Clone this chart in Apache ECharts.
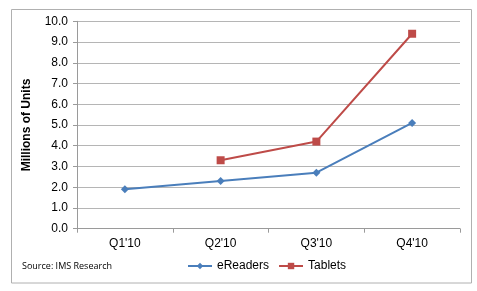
<!DOCTYPE html>
<html><head><meta charset="utf-8">
<script src="https://cdn.jsdelivr.net/npm/echarts@6/dist/echarts.min.js"></script>
<style>html,body{margin:0;padding:0;background:#fff}#c{width:477px;height:291px}</style>
</head><body><div id="c"></div>
<script>
var categories = ["Q1'10", "Q2'10", "Q3'10", "Q4'10"];
var eReaders = [1.9, 2.3, 2.7, 5.1];
var tablets = [null, 3.3, 4.2, 9.4];
var yTicks = {min: 0, max: 10, interval: 1};

var chart = echarts.init(document.getElementById('c'), null, {renderer: 'canvas'});
var font = '"Liberation Sans", Arial, sans-serif';
chart.setOption({
  animation: false,
  backgroundColor: '#fff',
  grid: {left: 77, right: 17, top: 21.3, bottom: 62.3, containLabel: false},
  xAxis: {
    type: 'category', data: categories, boundaryGap: true,
    axisLine: {lineStyle: {color: '#9a9a9a', width: 1}},
    axisTick: {show: true, length: 4, lineStyle: {color: '#9a9a9a'}},
    axisLabel: {color: '#000', fontFamily: font, fontSize: 12, margin: 9}
  },
  yAxis: {
    type: 'value', min: yTicks.min, max: yTicks.max, interval: yTicks.interval,
    name: 'Millions of Units', nameLocation: 'middle', nameGap: 44, nameRotate: 90,
    nameTextStyle: {color: '#000', fontFamily: font, fontSize: 12, fontWeight: 'bold'},
    axisLine: {show: true, lineStyle: {color: '#9a9a9a'}},
    axisTick: {show: true, length: 4, lineStyle: {color: '#9a9a9a'}},
    axisLabel: {color: '#000', fontFamily: font, fontSize: 12, margin: 9,
      formatter: function (v) { return v.toFixed(1); }},
    splitLine: {lineStyle: {color: '#b5b5b5', width: 1}}
  },
  legend: {
    top: 255, left: 182, itemWidth: 24, itemHeight: 8, itemGap: 9,
    textStyle: {color: '#000', fontFamily: font, fontSize: 12},
    data: ['eReaders', 'Tablets']
  },
  graphic: [
    {type: 'rect', shape: {x: 11.5, y: 9.5, width: 460, height: 273.5},
     style: {fill: 'none', stroke: '#b0b0b0', lineWidth: 1}, z: -1},
    {type: 'text', left: 22, top: 262,
     style: {text: 'Source: IMS Research', fill: '#000', font: '9px "Open Sans", sans-serif'}}
  ],
  series: [
    {name: 'eReaders', type: 'line', data: eReaders, symbol: 'diamond', symbolSize: 8,
     lineStyle: {color: '#4a7ebb', width: 2}, itemStyle: {color: '#4a7ebb'}},
    {name: 'Tablets', type: 'line', data: tablets, symbol: 'rect', symbolSize: 8,
     lineStyle: {color: '#be4b48', width: 2}, itemStyle: {color: '#be4b48'}}
  ]
});
</script></body></html>
